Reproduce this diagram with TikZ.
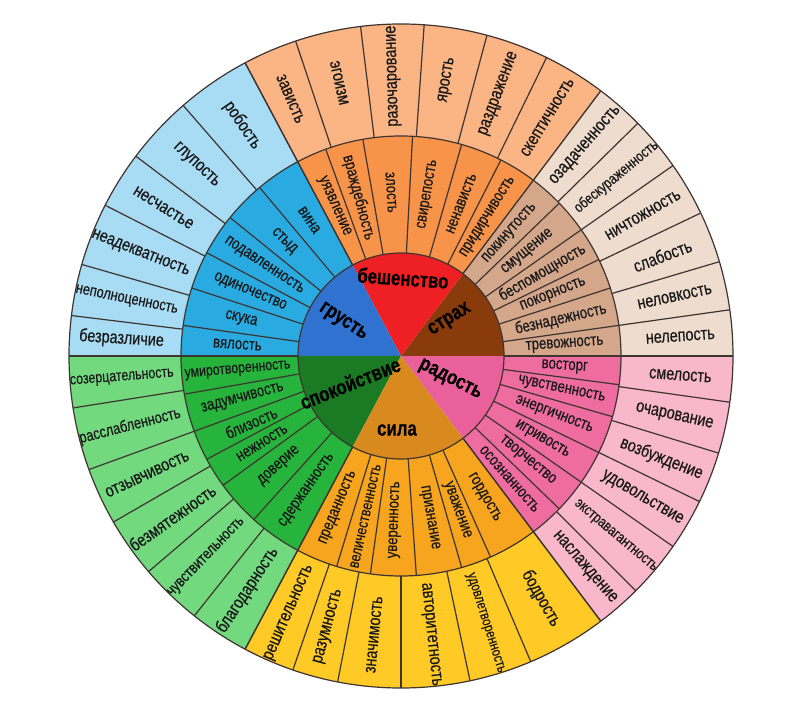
\documentclass[tikz,border=0pt]{standalone}
\usepackage{fontspec}
\usepackage{graphicx}
\setmainfont{Liberation Sans}[FakeBold=0.5]
\usetikzlibrary{calc}

\definecolor{linegrey}{HTML}{3E3430}
\definecolor{blueout}{HTML}{A8DCF4}
\definecolor{bluemid}{HTML}{29ABE2}
\definecolor{bluecore}{HTML}{2F72CF}
\definecolor{orout}{HTML}{FBB585}
\definecolor{ormid}{HTML}{F7944A}
\definecolor{redcore}{HTML}{EE2024}
\definecolor{beigeout}{HTML}{EEDCCF}
\definecolor{beigemid}{HTML}{D4A68A}
\definecolor{browncore}{HTML}{8A3B0C}
\definecolor{pinkout}{HTML}{F9B7CB}
\definecolor{pinkmid}{HTML}{EE6CA0}
\definecolor{pinkcore}{HTML}{E9609A}
\definecolor{yelout}{HTML}{FFC926}
\definecolor{yelmid}{HTML}{F7A51E}
\definecolor{yelcore}{HTML}{D88A1E}
\definecolor{greenout}{HTML}{72D97F}
\definecolor{greenmid}{HTML}{27B43C}
\definecolor{greencore}{HTML}{1B7A24}

\newcommand\wordfont{\fontsize{18}{18}\selectfont}
\newcommand\narrow[1]{\scalebox{0.8}[1]{#1}}

% shrink a word that is wider than its ring
\newsavebox\wordbox
\newcommand\fitword[2]{\sbox\wordbox{\narrow{#2}}%
  \ifdim\wd\wordbox>#1\relax\resizebox{#1}{!}{\usebox\wordbox}\else\usebox\wordbox\fi}

% #1 name prefix, #2 inner r, #3 outer r, #4 label r, #5 fill, #6 max width, #7 list
\newcommand\wheelring[7]{%
  \foreach \sa/\sb/\w [count=\i] in {#7} {
    \pgfmathsetmacro\m{(\sa+\sb)/2}
    \pgfmathsetmacro\rot{\m-180*(\m>93)*(\m<270)}
    \fill[#5] (\sa:#2) arc[start angle=\sa,end angle=\sb,radius=#2]
      -- (\sb:#3) arc[start angle=\sb,end angle=\sa,radius=#3] -- cycle;
    \draw[divider] (\sa:#2) -- (\sa:#3);
    \node[word,rotate=\rot] (#1-\i) at (\m:#4) {\fitword{#6}{\w}};
  }}

\begin{document}
\begin{tikzpicture}[x=1pt,y=1pt,
  divider/.style={draw=linegrey,line width=1.2pt},
  word/.style={inner sep=0pt,text=black!90,font=\wordfont},
  core/.style={inner sep=0pt,text=black,font=\fontsize{21}{21}\selectfont\bfseries}]
  \fill[white] (0,0) rectangle (800,713);
  \begin{scope}[shift={(401,357)}]
  % centre
  \fill[pinkcore] (0,0) -- (307:103pt) arc[start angle=307,end angle=360,radius=103pt] -- cycle;
  \fill[browncore] (0,0) -- (0:103pt) arc[start angle=0,end angle=53,radius=103pt] -- cycle;
  \fill[redcore] (0,0) -- (53:103pt) arc[start angle=53,end angle=118,radius=103pt] -- cycle;
  \fill[bluecore] (0,0) -- (118:103pt) arc[start angle=118,end angle=180,radius=103pt] -- cycle;
  \fill[greencore] (0,0) -- (180:103pt) arc[start angle=180,end angle=242,radius=103pt] -- cycle;
  \fill[yelcore] (0,0) -- (242:103pt) arc[start angle=242,end angle=307,radius=103pt] -- cycle;

  % middle ring
  \begin{scope}
  \renewcommand\wordfont{\fontsize{16.5}{16.5}\selectfont}
  \wheelring{mor}{103pt}{220pt}{164pt}{ormid}{106pt}{53/63/придирчивость,63/74/ненависть,
    74/87/свирепость,87/100/злость,100/110/враждебность,110/118/уязвление}
  \wheelring{mbr}{103pt}{220pt}{164pt}{beigemid}{106pt}{0/8/тревожность,8/18/безнадежность,
    18/26/покорность,26/35/беспомощность,35/44/смущение,44/53/покинутость}
  \wheelring{mbl}{103pt}{220pt}{164pt}{bluemid}{106pt}{118/130/вина,130/141/стыд,
    141/152/подавленность,152/162/одиночество,162/172/скука,172/180/вялость}
  \wheelring{mgr}{103pt}{220pt}{164pt}{greenmid}{106pt}{180/190/умиротворенность,190/200/задумчивость,
    200/208/близость,208/216/нежность,216/228/доверие,228/242/сдержанность}
  \wheelring{mye}{103pt}{220pt}{164pt}{yelmid}{106pt}{242/253/преданность,253/262/величественность,
    262/274/уверенность,274/286/признание,286/294/уважение,294/307/гордость}
  \wheelring{mpk}{103pt}{220pt}{164pt}{pinkmid}{106pt}{307/316/осознанность,316/325/творчество,
    325/334/игривость,334/344/энергичность,344/352.5/чувственность,352.5/360/восторг}
  \end{scope}

  % outer ring
  \wheelring{oor}{220pt}{332pt}{280pt}{orout}{104pt}{53/64/скептичность,64/75/раздражение,
    75/86/ярость,86/97/разочарование,97/108.5/эгоизм,108.5/118/зависть}
  \wheelring{obr}{220pt}{332pt}{280pt}{beigeout}{104pt}{0/8/нелепость,8/16.5/неловкость,
    16.5/25.5/слабость,25.5/35/ничтожность,35/44.5/обескураженность,44.5/53/озадаченность}
  \wheelring{obl}{220pt}{332pt}{280pt}{blueout}{104pt}{118/131/робость,131/143/глупость,
    143/153/несчастье,153/164/неадекватность,164/173/неполноценность,173/180/безразличие}
  \wheelring{ogr}{220pt}{332pt}{280pt}{greenout}{104pt}{180/189/созерцательность,189/200/расслабленность,
    200/210/отзывчивость,210/220.5/безмятежность,220.5/231.5/чувствительность,231.5/242/благодарность}
  \wheelring{oye}{220pt}{332pt}{280pt}{yelout}{104pt}{242/251/решительность,251/259/разумность,
    259/270/значимость,270/282/авторитетность,282/293/удовлетворенность,293/307/бодрость}
  \wheelring{opk}{220pt}{332pt}{280pt}{pinkout}{104pt}{307/315/наслаждение,315/325/экстравагантность,
    325/334/удовольствие,334/343/возбуждение,343/352/очарование,352/360/смелость}

  \foreach \g in {0,53,118,180,242,307}
    \draw[divider] (\g:103pt) -- (\g:332pt);
  \draw[divider] (0,0) circle[radius=103pt] circle[radius=220pt] circle[radius=332pt];

  \node[core,rotate=-33] (grust) at (-58,34) {\narrow{грусть}};
  \node[core,rotate=-4] (rage) at (2,78) {\narrow{бешенство}};
  \node[core,rotate=32] (fear) at (49,36) {\narrow{страх}};
  \node[core,rotate=22] (calm) at (-51,-27) {\narrow{спокойствие}};
  \node[core,rotate=-27] (joy) at (49,-24) {\narrow{радость}};
  \node[core] (power) at (-4,-74) {\narrow{сила}};
  \end{scope}
\end{tikzpicture}
\end{document}
